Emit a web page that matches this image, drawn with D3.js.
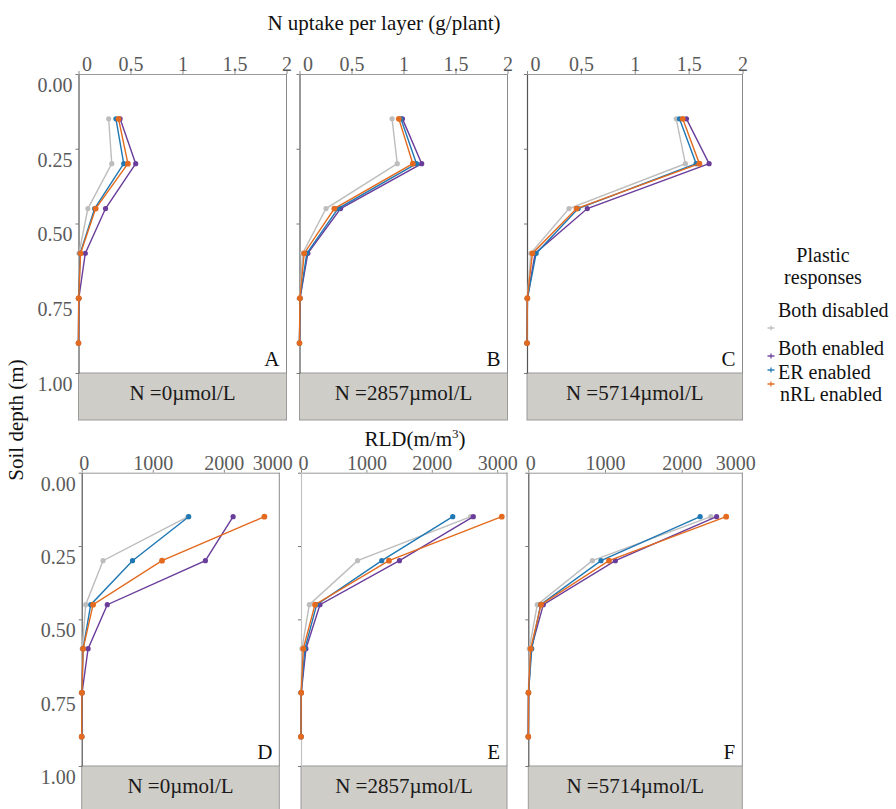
<!DOCTYPE html>
<html>
<head>
<meta charset="utf-8">
<script src="https://cdn.jsdelivr.net/npm/d3@7"></script>
<style>
  html, body { margin: 0; padding: 0; background: #fff; }
  svg { display: block; font-family: "Liberation Serif", "Times New Roman", serif; }
  svg text { font-family: "Liberation Serif", "Times New Roman", serif; }
</style>
</head>
<body>
<svg id="chart" width="896" height="809"></svg>
<script>
// Soil layer mid-depths (m)
const depths = [0.15, 0.30, 0.45, 0.60, 0.75, 0.90];

// Plastic-response scenarios (series order: drawn bottom to top)
const seriesNames = ["Both disabled", "Both enabled", "ER enabled", "nRL enabled"];

// N uptake per layer (g/plant); rows follow seriesNames
const uptakeN0 = [
  [0.29, 0.32, 0.09, 0.005, 0.002, 0],
  [0.40, 0.55, 0.26, 0.065, 0.003, 0],
  [0.36, 0.435, 0.155, 0.016, 0.002, 0],
  [0.385, 0.475, 0.165, 0.02, 0.002, 0]
];
const uptakeN2857 = [
  [0.89, 0.94, 0.255, 0.03, 0.004, 0],
  [0.99, 1.175, 0.395, 0.08, 0.005, 0],
  [0.975, 1.125, 0.37, 0.07, 0.005, 0],
  [0.955, 1.09, 0.335, 0.045, 0.004, 0]
];
const uptakeN5714 = [
  [1.385, 1.47, 0.39, 0.035, 0.003, 0],
  [1.48, 1.69, 0.56, 0.075, 0.004, 0],
  [1.415, 1.57, 0.475, 0.085, 0.004, 0],
  [1.445, 1.60, 0.46, 0.05, 0.003, 0]
];

// Root length density (m/m3); rows follow seriesNames
const rldN0 = [
  [1495, 300, 56, 8, 3, 0],
  [2130, 1740, 360, 90, 5, 0],
  [1505, 715, 127, 20, 3, 0],
  [2570, 1130, 160, 20, 3, 0]
];
const rldN2857 = [
  [2595, 865, 127, 15, 3, 0],
  [2635, 1505, 290, 76, 4, 0],
  [2320, 1235, 240, 60, 3, 0],
  [3070, 1345, 214, 35, 3, 0]
];
const rldN5714 = [
  [2380, 835, 117, 13, 2, 0],
  [2455, 1135, 196, 38, 3, 0],
  [2240, 948, 160, 45, 3, 0],
  [2580, 1052, 166, 31, 2, 0]
];

// Axis ticks and facet labels
const uptakeTicks = [0, 0.5, 1, 1.5, 2];
const rldTicks = [0, 1000, 2000, 3000];
const depthTicks = [0, 0.25, 0.5, 0.75, 1];
const nLevels = ["N =0\u00b5mol/L", "N =2857\u00b5mol/L", "N =5714\u00b5mol/L"];
const panelLetters = ["A", "B", "C", "D", "E", "F"];
const rldMax = [2780, 3150, 2790];

const colors = ["#bdbdbd", "#6a3d9a", "#1f78b4", "#e36a1e"];
const serif = '"Liberation Serif", "Times New Roman", serif';

const svg = d3.select("#chart");

// Frame geometry of the six facets
const topRow = { y0: 74, y1: 373, stripH: 47, labelNudge: 8 };
const botRow = { y0: 472.7, y1: 766, stripH: 50, labelNudge: 2 };
const topX = [[78.5, 286.5], [299.5, 507.5], [527, 742.5]];
const botX = [[81.7, 279.3], [301, 507], [528.3, 742.3]];

function drawPanel(opts) {
  const { x0, x1, row, domainMax, ticks, fmt, data, letter, strip, showDepthLabels, leftColor } = opts;
  const x = d3.scaleLinear().domain([0, domainMax]).range([x0, x1]);
  const y = d3.scaleLinear().domain([0, 1]).range([row.y0, row.y1]);
  const g = svg.append("g");

  // strip with facet label under the plot
  g.append("rect")
    .attr("x", x0).attr("y", row.y1)
    .attr("width", x1 - x0).attr("height", row.stripH)
    .attr("fill", "#cfcdc8").attr("stroke", "#9a9a9a").attr("stroke-width", 1);
  g.append("text")
    .attr("x", (x0 + x1) / 2).attr("y", row.y1 + 27)
    .attr("text-anchor", "middle").attr("font-size", 21).attr("fill", "#1a1a1a")
    .text(strip);

  // right frame edge
  g.append("line")
    .attr("x1", x1).attr("x2", x1).attr("y1", row.y0).attr("y2", row.y1)
    .attr("stroke", "#8a8a8a").attr("stroke-width", 1);

  // top value axis
  const ax = g.append("g")
    .attr("transform", `translate(0,${row.y0})`)
    .call(d3.axisTop(x).tickValues(ticks).tickSize(3).tickSizeOuter(0).tickPadding(0).tickFormat(fmt));
  ax.attr("font-family", serif);
  ax.select(".domain").attr("stroke", "#999");
  ax.selectAll(".tick line").attr("stroke", "#888");
  ax.selectAll(".tick text")
    .attr("font-size", 20).attr("fill", "#5a5a5a")
    .attr("dy", "0em")
    .attr("x", (d, i) => {
      const pos = x(d);
      let shift = i === 0 ? row.labelNudge : 0;
      if (pos > x1 + 0.5) shift += (x1 - 7) - pos;
      return shift;
    });
  ax.selectAll(".tick").filter(d => x(d) > x1 + 0.5).select("line").remove();

  // left depth axis
  const ay = g.append("g")
    .attr("transform", `translate(${x0},0)`)
    .call(d3.axisLeft(y).tickValues(depthTicks).tickSize(3).tickSizeOuter(0).tickPadding(3)
      .tickFormat(showDepthLabels ? d3.format(".2f") : () => ""));
  ay.attr("font-family", serif);
  ay.select(".domain").attr("stroke", leftColor).attr("stroke-width", 1.2);
  ay.selectAll(".tick line").attr("stroke", "#777");
  ay.selectAll(".tick text")
    .attr("font-size", 20).attr("fill", "#5a5a5a")
    .attr("y", 11);

  // profiles
  const line = d3.line().x(d => x(d[0])).y(d => y(d[1]));
  data.forEach((vals, s) => {
    const pts = vals.map((v, i) => [v, depths[i]]);
    g.append("path")
      .attr("d", line(pts))
      .attr("fill", "none").attr("stroke", colors[s]).attr("stroke-width", 1.4);
    g.selectAll(null).data(pts).enter().append("circle")
      .attr("cx", d => x(d[0])).attr("cy", d => y(d[1]))
      .attr("r", s === 3 ? 2.9 : 2.6)
      .attr("fill", colors[s]);
  });

  // panel letter
  g.append("text")
    .attr("x", x1 - 7).attr("y", row.y1 - 7)
    .attr("text-anchor", "end").attr("font-size", 21).attr("fill", "#111")
    .text(letter);
}

const uptakeSets = [uptakeN0, uptakeN2857, uptakeN5714];
const rldSets = [rldN0, rldN2857, rldN5714];

uptakeSets.forEach((data, i) => drawPanel({
  x0: topX[i][0], x1: topX[i][1], row: topRow, domainMax: 2,
  ticks: uptakeTicks, fmt: d3.format("~g"), data,
  letter: panelLetters[i], strip: nLevels[i], showDepthLabels: i === 0,
  leftColor: "#555"
}));

rldSets.forEach((data, i) => drawPanel({
  x0: botX[i][0], x1: botX[i][1], row: botRow, domainMax: rldMax[i],
  ticks: rldTicks, fmt: d3.format("d"), data,
  letter: panelLetters[i + 3], strip: nLevels[i], showDepthLabels: i === 0,
  leftColor: i === 1 ? "#c4c4c4" : "#555"
}));

// axis titles
svg.append("text")
  .attr("x", 384).attr("y", 30).attr("text-anchor", "middle")
  .attr("font-size", 21).attr("fill", "#111")
  .text("N uptake per layer (g/plant)");

const rldTitle = svg.append("text")
  .attr("x", 415).attr("y", 446).attr("text-anchor", "middle")
  .attr("font-size", 21).attr("fill", "#111");
rldTitle.append("tspan").text("RLD(m/m");
rldTitle.append("tspan").attr("font-size", 13).attr("dy", -8).text("3");
rldTitle.append("tspan").attr("dy", 8).text(")");

svg.append("text")
  .attr("transform", "translate(23,420) rotate(-90)")
  .attr("text-anchor", "middle").attr("font-size", 21).attr("fill", "#111")
  .text("Soil depth (m)");

// legend
const legend = svg.append("g");
legend.append("text").attr("x", 823).attr("y", 262).attr("text-anchor", "middle")
  .attr("font-size", 20).attr("fill", "#111").text("Plastic");
legend.append("text").attr("x", 823).attr("y", 284).attr("text-anchor", "middle")
  .attr("font-size", 20).attr("fill", "#111").text("responses");

const legendTextY = [317, 355, 379, 401];
const legendKeyY = [328, 356, 370, 384];
seriesNames.forEach((name, i) => {
  legend.append("line")
    .attr("x1", 767.5).attr("x2", 774.5)
    .attr("y1", legendKeyY[i]).attr("y2", legendKeyY[i])
    .attr("stroke", colors[i]).attr("stroke-width", 1.4);
  legend.append("line")
    .attr("x1", 771).attr("x2", 771)
    .attr("y1", legendKeyY[i] - 2.5).attr("y2", legendKeyY[i] + 2.5)
    .attr("stroke", colors[i]).attr("stroke-width", 1.2);
  legend.append("text")
    .attr("x", i === 3 ? 780 : 778).attr("y", legendTextY[i])
    .attr("font-size", 20).attr("fill", "#111")
    .text(name);
});
</script>
</body>
</html>
